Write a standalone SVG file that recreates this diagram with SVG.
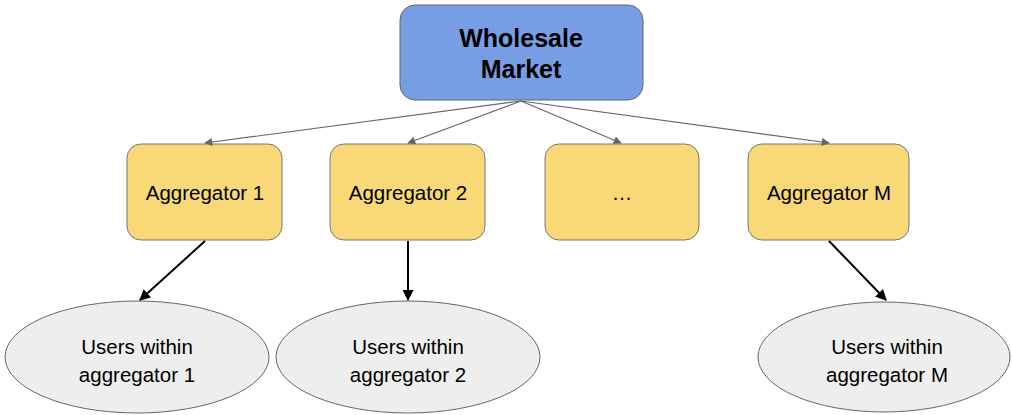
<svg xmlns="http://www.w3.org/2000/svg" width="1012" height="415" viewBox="0 0 1012 415">
<style>
.t{font-family:"Liberation Sans",Arial,sans-serif;font-size:20.5px;fill:#000;text-anchor:middle}
.b{font-weight:bold;font-size:25px}
.agg{fill:#f8d877;stroke:#777;stroke-width:1}
.usr{fill:#eeeeee;stroke:#666;stroke-width:1}
.g{stroke:#666;stroke-width:1.2;fill:none}
.k{stroke:#000;stroke-width:2;fill:none}
</style>
<defs>
<marker id="ag" viewBox="0 0 10 10" refX="9" refY="5" markerWidth="10" markerHeight="8" markerUnits="userSpaceOnUse" orient="auto"><path d="M0,0 L10,5 L0,10 z" fill="#666"/></marker>
<marker id="ak" viewBox="0 0 10 10" refX="9" refY="5" markerWidth="13" markerHeight="11" markerUnits="userSpaceOnUse" orient="auto"><path d="M0,0 L10,5 L0,10 z" fill="#000"/></marker>
</defs>
<g id="wholesale">
<rect x="400" y="5" width="243" height="95" rx="15" fill="#779ee5" stroke="#666"/>
<text class="t b" x="521" y="47">Wholesale</text>
<text class="t b" x="521" y="78">Market</text>
</g>
<g id="agg1"><rect class="agg" x="127" y="144" width="155" height="96" rx="14"/><text class="t" x="205" y="200">Aggregator 1</text></g>
<g id="agg2"><rect class="agg" x="330" y="144" width="155" height="96" rx="14"/><text class="t" x="408" y="200">Aggregator 2</text></g>
<g id="aggdots"><rect class="agg" x="545" y="144" width="154" height="96" rx="14"/><text class="t" x="622" y="200">…</text></g>
<g id="aggM"><rect class="agg" x="748" y="144" width="161" height="96" rx="14"/><text class="t" x="829" y="200">Aggregator M</text></g>
<g id="users1"><ellipse class="usr" cx="137" cy="357" rx="132" ry="56"/><text class="t" x="137" y="354">Users within</text><text class="t" x="137" y="382">aggregator 1</text></g>
<g id="users2"><ellipse class="usr" cx="408" cy="357" rx="132" ry="56"/><text class="t" x="408" y="354">Users within</text><text class="t" x="408" y="382">aggregator 2</text></g>
<g id="usersM"><ellipse class="usr" cx="884" cy="357" rx="126" ry="55"/><text class="t" x="887" y="354">Users within</text><text class="t" x="887" y="382">aggregator M</text></g>
<g id="connectors">
<line class="g" x1="521" y1="101" x2="205" y2="143" marker-end="url(#ag)"/>
<line class="g" x1="521" y1="101" x2="408" y2="143" marker-end="url(#ag)"/>
<line class="g" x1="521" y1="101" x2="621" y2="143" marker-end="url(#ag)"/>
<line class="g" x1="521" y1="101" x2="829" y2="143" marker-end="url(#ag)"/>
<line class="k" x1="205" y1="241" x2="140" y2="300" marker-end="url(#ak)"/>
<line class="k" x1="408" y1="241" x2="408" y2="300" marker-end="url(#ak)"/>
<line class="k" x1="829" y1="241" x2="886" y2="300" marker-end="url(#ak)"/>
</g>
</svg>
